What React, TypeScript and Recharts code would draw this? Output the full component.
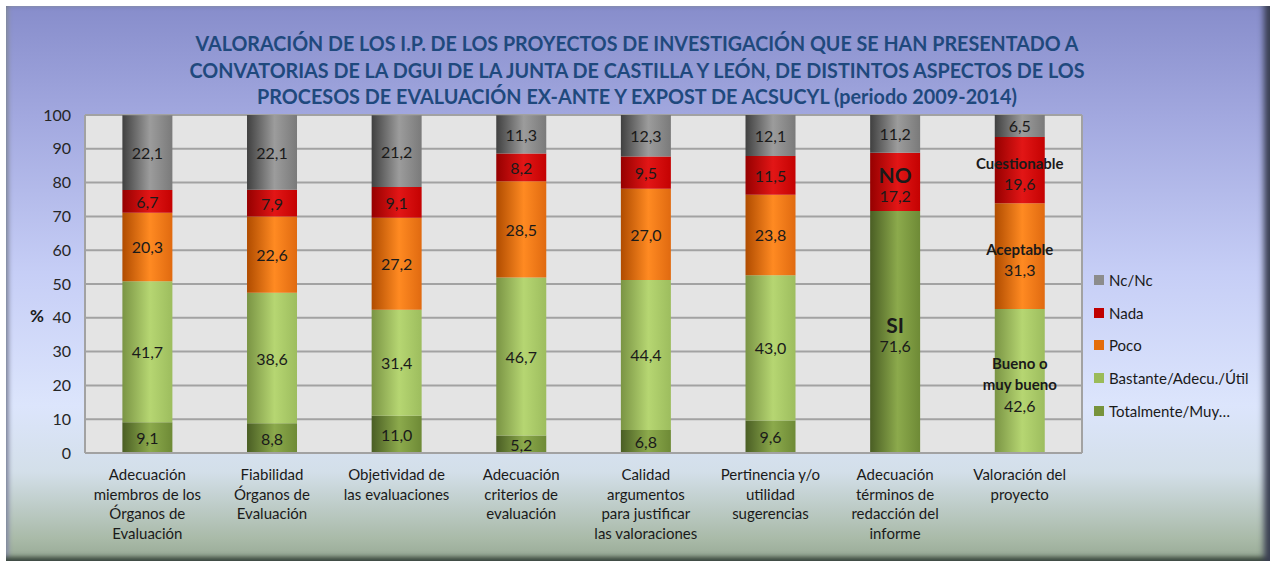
import React from 'react';
import { BarChart, Bar, XAxis, YAxis, CartesianGrid, LabelList } from 'recharts';

const categories = [
    'Adecuación\nmiembros de los\nÓrganos de\nEvaluación',
    'Fiabilidad\nÓrganos de\nEvaluación',
    'Objetividad de\nlas evaluaciones',
    'Adecuación\ncriterios de\nevaluación',
    'Calidad\nargumentos\npara justificar\nlas valoraciones',
    'Pertinencia y/o\nutilidad\nsugerencias',
    'Adecuación\ntérminos de\nredacción del\ninforme',
    'Valoración del\nproyecto'
];

// series, bottom to top of each stack
const totalmente = [9.1, 8.8, 11.0, 5.2, 6.8, 9.6, 71.6, 0];
const bastante = [41.7, 38.6, 31.4, 46.7, 44.4, 43.0, 0, 42.6];
const poco = [20.3, 22.6, 27.2, 28.5, 27.0, 23.8, 0, 31.3];
const nada = [6.7, 7.9, 9.1, 8.2, 9.5, 11.5, 17.2, 19.6];
const ncnc = [22.1, 22.1, 21.2, 11.3, 12.3, 12.1, 11.2, 6.5];

// extra words written inside some segments
const totalmenteNotes = ['', '', '', '', '', '', 'SI', ''];
const bastanteNotes = ['', '', '', '', '', '', '', 'Bueno o\nmuy bueno'];
const pocoNotes = ['', '', '', '', '', '', '', 'Aceptable'];
const nadaNotes = ['', '', '', '', '', '', 'NO', 'Cuestionable'];
const ncNotes = ['', '', '', '', '', '', '', ''];

const yTicks = [0, 10, 20, 30, 40, 50, 60, 70, 80, 90, 100];

const titleLines = [
    'VALORACIÓN DE LOS I.P. DE LOS PROYECTOS DE INVESTIGACIÓN QUE SE HAN PRESENTADO A',
    'CONVATORIAS DE LA DGUI DE LA JUNTA DE CASTILLA Y LEÓN, DE DISTINTOS ASPECTOS DE LOS',
    'PROCESOS DE EVALUACIÓN EX-ANTE Y EXPOST DE ACSUCYL (periodo 2009-2014)'
];
const titleWidths = [883, 895, 760];

const seriesNames = ['Totalmente/Muy…', 'Bastante/Adecu./Útil', 'Poco', 'Nada', 'Nc/Nc'];
const legendColors = ['#77933c', '#9bbb59', '#e46c0a', '#c00000', '#8c8c8c'];

const FONT = 'Lato, "Noto Sans", sans-serif';

const fmt = (v: number) => v.toFixed(1).replace('.', ',');
// label text = note lines + value, joined with "|"
const lbl = (v: number, note: string) => (v ? (note ? note + '\n' : '') + fmt(v) : '');

const data = categories.map((name, i) => ({
    name,
    tot: totalmente[i],
    bast: bastante[i],
    poco: poco[i],
    nada: nada[i],
    nc: ncnc[i],
    totL: lbl(totalmente[i], totalmenteNotes[i]),
    bastL: lbl(bastante[i], bastanteNotes[i]),
    pocoL: lbl(poco[i], pocoNotes[i]),
    nadaL: lbl(nada[i], nadaNotes[i]),
    ncL: lbl(ncnc[i], ncNotes[i])
}));

const renderLabel = (props: any) => {
    const { x, y, width, height, value } = props;
    if (!value) return <g />;
    const cx = Number(x) + Number(width) / 2;
    const cy = Number(y) + Number(height) / 2;
    const parts = String(value).split('\n');
    const noteLines = parts.slice(0, -1);
    const big = noteLines.length === 1 && noteLines[0].length <= 2;
    const lh = noteLines.length ? 21 : 0;
    const start = cy - ((parts.length - 1) * lh) / 2 + (noteLines.length ? 3 : 0);
    return (
        <g>
            {parts.map((t, i) => {
                const bold = i < parts.length - 1;
                return (
                    <text
                        key={i}
                        x={cx}
                        y={start + i * lh}
                        textAnchor="middle"
                        dominantBaseline="central"
                        fontFamily={FONT}
                        fontSize={bold ? (big ? 21 : 15) : 16}
                        fontWeight={bold ? 700 : 400}
                        fill="#1a1a1a"
                    >
                        {t}
                    </text>
                );
            })}
        </g>
    );
};

const XTick = (props: any) => {
    const { x, y, payload } = props;
    const lines = String(payload.value).split('\n');
    return (
        <text x={x} y={y + 27} textAnchor="middle" fontFamily={FONT} fontSize={15} fill="#1a1a1a">
            {lines.map((l, i) => (
                <tspan key={i} x={x} dy={i === 0 ? 0 : 19.5}>{l}</tspan>
            ))}
        </text>
    );
};

const App: React.FC = () => {
    return (
        <div style={{ position: 'absolute', left: 0, top: 0, width: 1273, height: 564, background: '#ffffff', overflow: 'hidden' }}>
            <div
                style={{
                    position: 'absolute',
                    left: 6,
                    top: 6,
                    width: 1264,
                    height: 555,
                    background: 'linear-gradient(to bottom, #878dcb 0%, #a2a8df 20%, #c6cef6 48%, #dce5fc 72%, #d3dfe9 84%, #a9baa8 96%, #96a894 100%)',
                    boxShadow: 'inset -9px 0 6px -3px #3a3f52, inset 0 -7px 5px -3px #3c4a3e, inset 5px 0 4px -2px #8a90a8, inset 0 2px 2px -1px #9aa0c8'
                }}
            />
            <div style={{ position: 'absolute', left: 0, top: 0 }}>
                <BarChart
                    width={1273}
                    height={564}
                    data={data}
                    margin={{ top: 115, right: 191, bottom: 0, left: 0 }}
                    barCategoryGap="30%"
                >
                    <defs>
                        <linearGradient id="gTot" x1="0" y1="0" x2="1" y2="0">
                            <stop offset="0%" stopColor="#4a5e24" />
                            <stop offset="55%" stopColor="#8caa4c" />
                            <stop offset="100%" stopColor="#6e8a36" />
                        </linearGradient>
                        <linearGradient id="gBast" x1="0" y1="0" x2="1" y2="0">
                            <stop offset="0%" stopColor="#7a9444" />
                            <stop offset="55%" stopColor="#b6d672" />
                            <stop offset="100%" stopColor="#9dbd5e" />
                        </linearGradient>
                        <linearGradient id="gPoco" x1="0" y1="0" x2="1" y2="0">
                            <stop offset="0%" stopColor="#b04c00" />
                            <stop offset="55%" stopColor="#ff8a22" />
                            <stop offset="100%" stopColor="#e06a10" />
                        </linearGradient>
                        <linearGradient id="gNada" x1="0" y1="0" x2="1" y2="0">
                            <stop offset="0%" stopColor="#960000" />
                            <stop offset="55%" stopColor="#e21616" />
                            <stop offset="100%" stopColor="#c40202" />
                        </linearGradient>
                        <linearGradient id="gNc" x1="0" y1="0" x2="1" y2="0">
                            <stop offset="0%" stopColor="#404040" />
                            <stop offset="55%" stopColor="#9c9c9c" />
                            <stop offset="100%" stopColor="#7a7a7a" />
                        </linearGradient>
                    </defs>
                    <CartesianGrid
                        fill="#e4e4e4"
                        stroke="#a2a2a2"
                        strokeWidth={2}
                        verticalCoordinatesGenerator={({ offset }: any) => [offset.left, offset.left + offset.width]}
                    />
                    <XAxis
                        dataKey="name"
                        height={111}
                        interval={0}
                        tick={<XTick />}
                        tickLine={false}
                        tickSize={0}
                        tickMargin={0}
                        axisLine={{ stroke: '#a2a2a2', strokeWidth: 2 }}
                    />
                    <YAxis
                        width={85}
                        domain={[0, 100]}
                        ticks={yTicks}
                        interval={0}
                        tickLine={false}
                        tickSize={0}
                        tickMargin={14}
                        axisLine={false}
                        tick={{ fontFamily: FONT, fontSize: 16, fill: '#262626' }}
                    />
                    <Bar dataKey="tot" stackId="a" fill="url(#gTot)" isAnimationActive={false}>
                        <LabelList dataKey="totL" content={renderLabel} />
                    </Bar>
                    <Bar dataKey="bast" stackId="a" fill="url(#gBast)" isAnimationActive={false}>
                        <LabelList dataKey="bastL" content={renderLabel} />
                    </Bar>
                    <Bar dataKey="poco" stackId="a" fill="url(#gPoco)" isAnimationActive={false}>
                        <LabelList dataKey="pocoL" content={renderLabel} />
                    </Bar>
                    <Bar dataKey="nada" stackId="a" fill="url(#gNada)" isAnimationActive={false}>
                        <LabelList dataKey="nadaL" content={renderLabel} />
                    </Bar>
                    <Bar dataKey="nc" stackId="a" fill="url(#gNc)" isAnimationActive={false}>
                        <LabelList dataKey="ncL" content={renderLabel} />
                    </Bar>
                </BarChart>
            </div>
            <svg width={1273} height={564} style={{ position: 'absolute', left: 0, top: 0, pointerEvents: 'none' }}>
                {titleLines.map((t, i) => (
                    <text
                        key={i}
                        x={637}
                        y={51 + i * 26.5}
                        textAnchor="middle"
                        fontFamily={FONT}
                        fontWeight={700}
                        fontSize={21.5}
                        fill="#1f497d"
                        textLength={titleWidths[i]}
                        lengthAdjust="spacingAndGlyphs"
                    >
                        {t}
                    </text>
                ))}
                <text x={37} y={322} textAnchor="middle" fontFamily={FONT} fontWeight={700} fontSize={17} fill="#1a1a1a">%</text>
            </svg>
            <div style={{ position: 'absolute', left: 1094, top: 269 }}>
                {[4, 3, 2, 1, 0].map((s, i) => (
                    <div key={s} style={{ position: 'absolute', top: i * 32.7, left: 0, display: 'flex', alignItems: 'center', height: 22, whiteSpace: 'nowrap' }}>
                        <div style={{ width: 10, height: 10, background: legendColors[s], marginRight: 5 }} />
                        <span style={{ fontFamily: FONT, fontSize: 15, color: '#1a1a1a' }}>{seriesNames[s]}</span>
                    </div>
                ))}
            </div>
        </div>
    );
};

export default App;
